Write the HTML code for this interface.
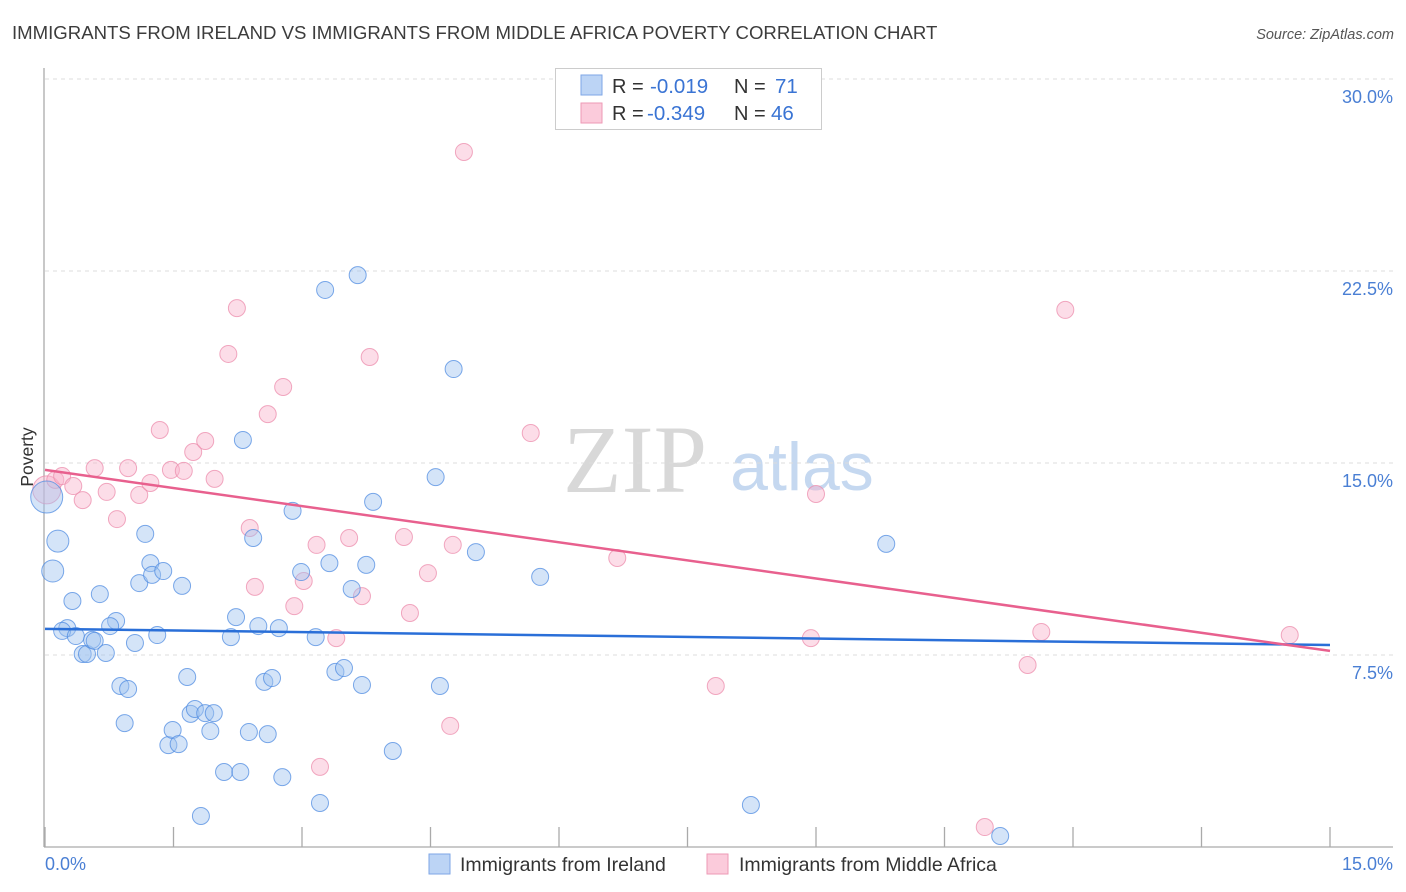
<!DOCTYPE html>
<html><head><meta charset="utf-8"><style>
body{margin:0;background:#fff;font-family:"Liberation Sans",sans-serif;}
#wrap{position:relative;width:1406px;height:892px;overflow:hidden;}
</style></head><body>
<div id="wrap">
<svg id="svg" width="1406" height="892" xmlns="http://www.w3.org/2000/svg">
<text x="12" y="39" font-size="18.6" fill="#3c3c3c">IMMIGRANTS FROM IRELAND VS IMMIGRANTS FROM MIDDLE AFRICA POVERTY CORRELATION CHART</text>
<text x="1394" y="39" font-size="14.5" fill="#555" font-style="italic" text-anchor="end">Source: ZipAtlas.com</text>
<text x="635" y="492" font-size="96" fill="#d8d8d8" font-family="Liberation Serif,serif" text-anchor="middle">ZIP</text>
<text x="802" y="490" font-size="68" fill="#c5d8f0" text-anchor="middle">atlas</text>
<g id="grid"></g>
<line x1="44" y1="68" x2="44" y2="847" stroke="#aaa" stroke-width="1.3"/>
<line x1="44" y1="847" x2="1393" y2="847" stroke="#aaa" stroke-width="1.3"/>
<g id="ticks"></g>
<g id="pts"></g>
<g id="lines"></g>
<text x="33" y="457" font-size="17.5" fill="#333" text-anchor="middle" transform="rotate(-90 33 457)">Poverty</text>
<text x="45" y="870" font-size="18" fill="#4a7fd4">0.0%</text>
<text x="1393" y="870" font-size="18" fill="#4a7fd4" text-anchor="end">15.0%</text>
<g>
<rect x="555.5" y="68.5" width="266" height="61" fill="#fff" stroke="#ccc"/>
<rect x="581" y="75" width="21" height="20" fill="#bcd4f5" stroke="#7ea6e6"/>
<rect x="581" y="103" width="21" height="20" fill="#fbcbdb" stroke="#ee9ab6"/>
<text x="612" y="93" font-size="20" fill="#333">R =</text>
<text x="650" y="93" font-size="20.5" fill="#3a74d4">-0.019</text>
<text x="734" y="93" font-size="20" fill="#333">N =</text>
<text x="775" y="93" font-size="20.5" fill="#3a74d4">71</text>
<text x="612" y="120" font-size="20" fill="#333">R =</text>
<text x="647" y="120" font-size="20.5" fill="#3a74d4">-0.349</text>
<text x="734" y="120" font-size="20" fill="#333">N =</text>
<text x="771" y="120" font-size="20.5" fill="#3a74d4">46</text>
</g>
<g>
<rect x="429" y="854" width="21" height="20" fill="#bcd4f5" stroke="#7ea6e6"/>
<text x="460" y="871" font-size="19.5" fill="#333">Immigrants from Ireland</text>
<rect x="707" y="854" width="21" height="20" fill="#fbcbdb" stroke="#ee9ab6"/>
<text x="739" y="871" font-size="19.5" fill="#333">Immigrants from Middle Africa</text>
</g>
</svg>
</div>
<script>
const yTicks=[7.5,15,22.5,30];
const yTickLabels=["7.5%","15.0%","22.5%","30.0%"];
const xTicks=[0,1.5,3,4.5,6,7.5,9,10.5,12,13.5,15];
const blueX=[0.02,0.15,0.09,0.32,0.26,0.20,0.36,0.44,0.49,0.55,0.58,0.64,0.71,0.83,0.76,0.88,0.97,0.93,1.05,1.10,1.17,1.23,1.25,1.31,1.38,1.44,1.49,1.56,1.60,1.66,1.70,1.75,1.87,1.82,1.93,1.97,2.09,2.17,2.23,2.28,2.31,2.38,2.43,2.49,2.56,2.60,2.65,2.73,2.77,2.89,2.99,3.16,3.21,3.27,3.32,3.39,3.49,3.58,3.65,3.70,3.75,3.83,4.06,4.56,4.61,4.77,5.03,5.78,8.24,9.82,11.15];
const blueY=[13.67,11.95,10.78,9.61,8.55,8.44,8.24,7.54,7.54,8.09,8.05,9.88,7.58,8.83,8.63,6.29,6.17,4.84,7.97,10.31,12.23,11.09,10.63,8.28,10.78,3.98,4.57,4.02,10.20,6.64,5.20,5.39,5.23,1.21,4.53,5.23,2.93,8.20,8.98,2.93,15.90,4.49,12.07,8.63,6.45,4.41,6.60,8.55,2.73,13.13,10.74,8.20,1.72,21.76,11.09,6.84,6.99,10.08,22.34,6.33,11.02,13.48,3.75,14.45,6.29,18.67,11.52,10.55,1.64,11.84,0.43];
const pinkX=[0.02,0.12,0.20,0.33,0.44,0.58,0.72,0.84,0.97,1.10,1.23,1.34,1.47,1.62,1.73,1.87,1.98,2.14,2.24,2.39,2.45,2.60,2.78,2.91,3.02,3.17,3.21,3.40,3.55,3.70,3.79,4.19,4.26,4.47,4.73,4.76,4.89,5.67,6.68,7.83,8.94,9.00,10.97,11.47,11.63,11.91,14.53];
const pinkY=[13.95,14.34,14.49,14.10,13.55,14.80,13.87,12.81,14.80,13.75,14.22,16.29,14.73,14.69,15.43,15.86,14.38,19.26,21.05,12.46,10.16,16.91,17.97,9.41,10.39,11.80,3.13,8.16,12.07,9.80,19.14,12.11,9.14,10.70,4.73,11.80,27.15,16.17,11.29,6.29,8.16,13.79,0.78,7.11,8.40,20.98,8.28];
const blueTrend=[8.52,7.89];
const pinkTrend=[14.73,7.66];
const trendX=[0,15];
const NS="http://www.w3.org/2000/svg";
function sx(v){return 45+v/15*1285;}
function sy(v){return 847-v/7.5*192;}
function mk(tag,attrs,parent){const e=document.createElementNS(NS,tag);for(const k in attrs)e.setAttribute(k,attrs[k]);parent.appendChild(e);return e;}
const grid=document.getElementById('grid'),ticks=document.getElementById('ticks'),pts=document.getElementById('pts'),lines=document.getElementById('lines');
yTicks.forEach((t,i)=>{
 const l=mk('line',{x1:45,x2:1393,y1:sy(t),y2:sy(t),stroke:'#ddd','stroke-dasharray':'4,4'},grid);
 
 
 const tx=mk('text',{x:1393,y:sy(t)+24,'font-size':18,fill:'#4a7fd4','text-anchor':'end'},grid);
 tx.textContent=yTickLabels[i];
 
 
});
xTicks.forEach(t=>{
 const l=mk('line',{x1:sx(t),x2:sx(t),y1:827,y2:847,stroke:'#aaa','stroke-width':1.3},ticks);
 
 
});
function rad(x,i){return i===0?16:(i===1||i===2)&&x<0.2?11:8.5;}
pinkX.forEach((x,i)=>{
 const c=mk('circle',{cx:sx(x),cy:sy(pinkY[i]),r:i===0?14:8.5,fill:'rgba(248,180,204,0.45)',stroke:'rgba(236,140,172,0.75)','stroke-width':1},pts);
 
 
});
blueX.forEach((x,i)=>{
 const c=mk('circle',{cx:sx(x),cy:sy(blueY[i]),r:rad(x,i),fill:'rgba(160,196,240,0.45)',stroke:'rgba(80,140,225,0.75)','stroke-width':1},pts);
 
 
});
const bl=mk('line',{x1:sx(trendX[0]),y1:sy(blueTrend[0]),x2:sx(trendX[1]),y2:sy(blueTrend[1]),stroke:'#2a6fd8','stroke-width':2.5},lines);


const pl=mk('line',{x1:sx(trendX[0]),y1:sy(pinkTrend[0]),x2:sx(trendX[1]),y2:sy(pinkTrend[1]),stroke:'#e8608e','stroke-width':2.5},lines);


</script>
</body></html>
